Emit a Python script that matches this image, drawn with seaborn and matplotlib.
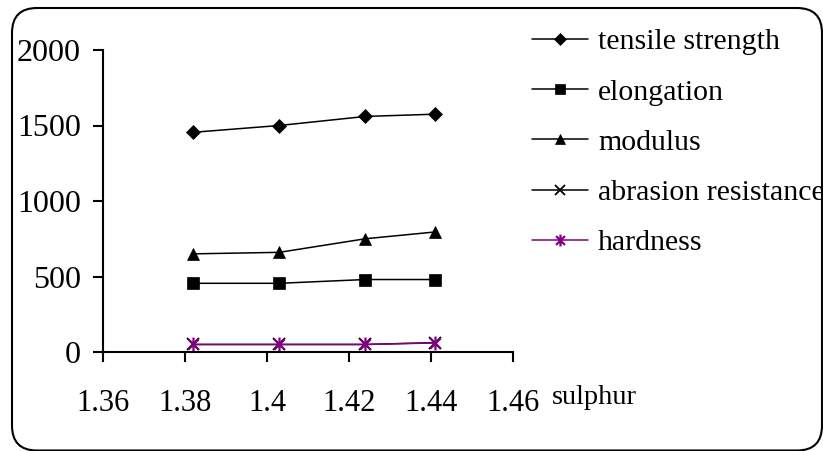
import matplotlib
matplotlib.use("Agg")
import matplotlib.pyplot as plt
import seaborn as sns
from matplotlib.patches import FancyBboxPatch
from matplotlib.path import Path
from matplotlib.lines import Line2D
from matplotlib.transforms import IdentityTransform

# ---- data ----
sulphur = [1.382, 1.403, 1.424, 1.441]
tensile_strength = [1455, 1500, 1560, 1575]
elongation = [455, 455, 480, 480]
modulus = [650, 660, 750, 795]
abrasion_resistance = [50, 50, 50, 62]
hardness = [50, 50, 50, 60]
series_names = ["tensile strength", "elongation", "modulus",
                "abrasion resistance", "hardness"]
x_ticks = [1.36, 1.38, 1.40, 1.42, 1.44, 1.46]
x_tick_labels = ["1.36", "1.38", "1.4", "1.42", "1.44", "1.46"]
y_ticks = [0, 500, 1000, 1500, 2000]
x_title = "sulphur"

sns.set_style("ticks")
plt.rcParams["font.family"] = ["Liberation Serif", "DejaVu Serif"]
for k in ["text.color", "axes.labelcolor", "xtick.color", "ytick.color",
          "axes.edgecolor"]:
    plt.rcParams[k] = "black"

asterisk = Path(
    [(0, -1), (0, 1), (-0.75, -0.75), (0.75, 0.75), (-0.75, 0.75), (0.75, -0.75)],
    [Path.MOVETO, Path.LINETO, Path.MOVETO, Path.LINETO, Path.MOVETO, Path.LINETO],
)

styles = [
    dict(color="black", marker="D", ms=7.5, mew=0.5),
    dict(color="black", marker="s", ms=8, mew=0.5),
    dict(color="black", marker="^", ms=9, mew=0.5),
    dict(color="black", marker="x", ms=8, mew=1.3),
    dict(color="#800080", marker=asterisk, ms=10, mew=1.6),
]
values = [tensile_strength, elongation, modulus, abrasion_resistance, hardness]

fig = plt.figure(figsize=(8.23, 4.51), dpi=100)
fig.patch.set_facecolor("white")
ax = fig.add_axes([103 / 823, 1 - 352 / 451, 410 / 823, 302 / 451])
ax.set_facecolor("white")

for name, vals, st in zip(series_names, values, styles):
    sns.lineplot(x=sulphur, y=vals, ax=ax, color=st["color"], marker=st["marker"],
                 markersize=st["ms"], markeredgecolor=st["color"],
                 markerfacecolor=st["color"], markeredgewidth=st["mew"],
                 linewidth=1.1, legend=False)

ax.set_xlim(1.36, 1.46)
ax.set_ylim(0, 2000)
ax.set_xticks(x_ticks)
ax.set_xticklabels(x_tick_labels)
ax.set_yticks(y_ticks)
ax.set_xlabel("")
ax.set_ylabel("")
sns.despine(ax=ax)
for s in ["left", "bottom"]:
    ax.spines[s].set_linewidth(1.5)
    ax.spines[s].set_color("black")
ax.tick_params(axis="both", direction="out", length=7.5, width=1.5,
               colors="black")
ax.tick_params(axis="x", pad=19, labelsize=22)
ax.tick_params(axis="y", pad=8.5, labelsize=23)

fig.text(552 / 823, 1 - 398 / 451, x_title, fontsize=20.5, va="center", ha="left")

handles = [Line2D([], [], color=st["color"], marker=st["marker"],
                  markersize=st["ms"] * 0.85, markeredgecolor=st["color"],
                  markerfacecolor=st["color"], markeredgewidth=st["mew"],
                  linewidth=1.1) for st in styles]
ax.legend(handles, series_names, loc="upper left",
          bbox_to_anchor=(532 / 823, 1 - 28.5 / 451), bbox_transform=fig.transFigure,
          frameon=False, borderpad=0, borderaxespad=0, handlelength=1.86,
          handletextpad=0.35, labelspacing=0.78, fontsize=21.5)

border = FancyBboxPatch((12, 0.5), 810, 442.5,
                        boxstyle="round,pad=0,rounding_size=25",
                        transform=IdentityTransform(), fill=False,
                        edgecolor="black", linewidth=1.5)
fig.patches.append(border)

fig.savefig("out.png", dpi=100)
